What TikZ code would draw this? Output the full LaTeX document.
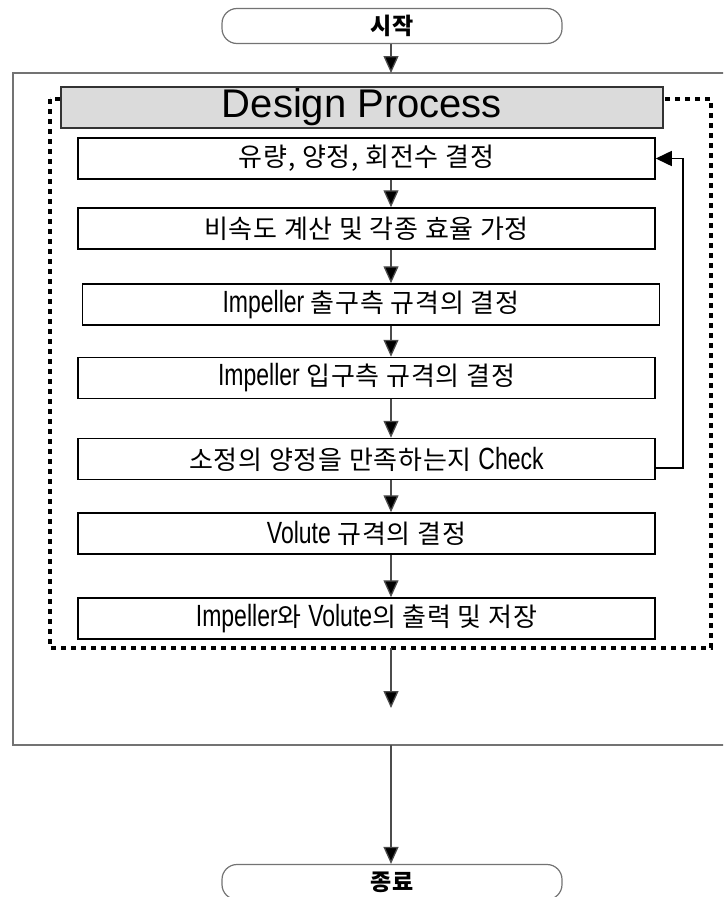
\documentclass[tikz,border=0pt]{standalone}
\usepackage{fontspec}
\setmainfont{Noto Sans CJK KR}
\newfontfamily\latinfont{Liberation Sans}
\newfontfamily\stepfont[LetterSpace=3]{Noto Sans CJK KR}
\newfontfamily\narrowlatin[FakeStretch=0.75,Scale=1.18]{Liberation Sans}
\newcommand{\lat}[1]{{\narrowlatin #1}}
\usepackage{xcolor}
\usetikzlibrary{arrows.meta}
\definecolor{framegray}{gray}{0.45}
\definecolor{headgray}{gray}{0.86}
\tikzset{
stepbox/.style={
  draw=black,
  line width=1.5pt,
  rectangle,
  minimum width=577pt,
  minimum height=41pt,
  inner sep=0pt,
  font=\stepfont\fontsize{26}{28}\selectfont
},
termbox/.style={
  draw=framegray,
  line width=1.2pt,
  rounded corners=15pt,
  minimum width=340pt,
  minimum height=35pt,
  inner sep=0pt,
  font=\fontsize{23}{25}\selectfont\bfseries
},
arr/.style={
  draw=black!70,
  line width=1.3pt,
  -{Triangle[length=17pt,width=15pt,fill=black]}
},
back/.style={
  draw=black,
  line width=1.5pt,
  -{Triangle[length=16pt,width=15pt,fill=black]}
},
dotframe/.style={
  draw=black,
  line width=3.5pt,
  dash pattern=on 5pt off 5pt
},
}

\begin{document}
\begin{tikzpicture}[x=1pt,y=-1pt]
\clip (0,0) rectangle (723,897);
% the outer frame, open to the right
\draw[framegray,line width=2.5pt] (730,73) -- (13,73) -- (13,745) -- (730,745);
% the dotted design frame
\draw[dotframe] (50,99) rectangle (711,648);
\node[draw=black!80,line width=1.8pt,fill=headgray,minimum width=602pt,minimum height=41pt,
      inner sep=0pt,font=\latinfont\fontsize{40}{44}\selectfont] (design) at (362,107.5) {Design Process};
% the terminals
\node[termbox] (start) at (392,26) {시작};
\node[termbox] (stop) at (392,882) {종료};
% the steps
\foreach \i/\xc/\yc/\txt in {
  1/366.5/158.5/{유량, 양정, 회전수 결정},
  2/366.5/228.5/{비속도 계산 및 각종 효율 가정},
  3/371/304.5/{\lat{Impeller} 출구측 규격의 결정},
  4/366.5/378/{\lat{Impeller} 입구측 규격의 결정},
  5/366.5/459/{소정의 양정을 만족하는지 \lat{Check}},
  6/366.5/533.5/{\lat{Volute} 규격의 결정},
  7/366.5/618.5/{\lat{Impeller}와 \lat{Volute}의 출력 및 저장}}
{
  \node[stepbox] (s\i) at (\xc,\yc) {\txt};
}
\coordinate (ax) at (391,0);
\coordinate (loop) at (683,0);
\coordinate (frametop) at (391,73);
\coordinate (framebot) at (391,745);
\coordinate (dotbot) at (391,648);
\coordinate (inner) at (391,708);
% the arrows
\draw[arr] (start.south -| ax) -- (frametop);
\foreach \i [evaluate=\i as \j using int(\i+1)] in {1,...,6}
{
  \draw[arr] (s\i.south -| ax) -- (s\j.north -| ax);
}
\draw[arr] (dotbot) -- (inner);
\draw[arr] (framebot) -- (stop.north -| ax);
% the feedback loop
\draw[back] ([yshift=-9pt]s5.east) -| (loop |- s1.east) -- (s1.east);
\end{tikzpicture}
\end{document}
